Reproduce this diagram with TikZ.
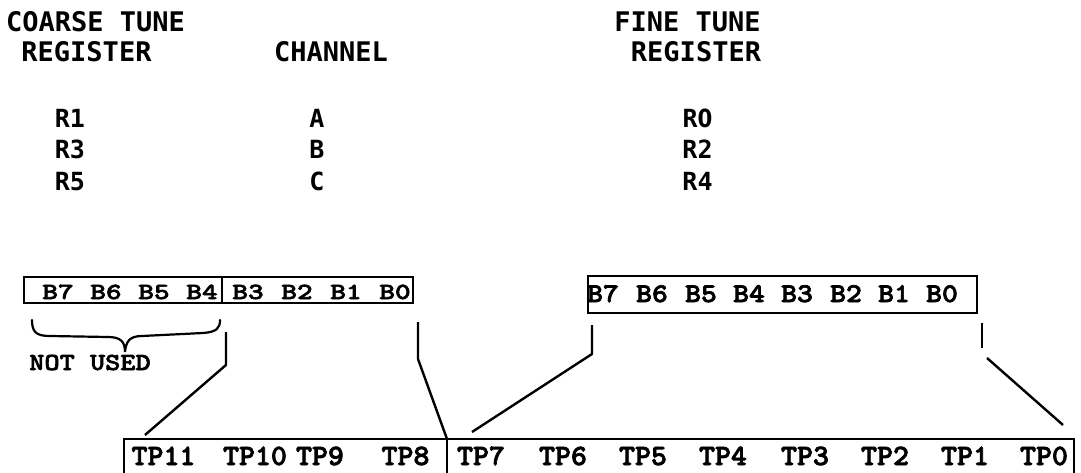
\documentclass[tikz,border=0pt]{standalone}
\usepackage{fontspec}
\newfontfamily\hdrfont{DejaVu Sans Mono}
\newfontfamily\zerofont[FakeStretch=0.85]{DejaVu Sans}
\newfontfamily\regfont[FakeStretch=1.3,FakeBold=2.5]{lmmonolt10-bold.otf}
\newfontfamily\finefont[FakeStretch=1.12,FakeBold=2.5]{lmmonolt10-bold.otf}
\newfontfamily\tpfont[FakeStretch=1.03,FakeBold=2.5]{lmmonolt10-bold.otf}
\newfontfamily\nufont[FakeStretch=1.18,FakeBold=2.5]{lmmonolt10-bold.otf}
\begin{document}
\begin{tikzpicture}[x=1pt,y=-1pt,
  hdr/.style={inner sep=0pt, anchor=base, font=\hdrfont\bfseries\fontsize{27}{27}\selectfont},
  regname/.style={inner sep=0pt, anchor=base, font=\hdrfont\bfseries\fontsize{25}{25}\selectfont},
  cbit/.style={inner sep=0pt, anchor=base, font=\regfont\fontsize{23}{23}\selectfont},
  fbit/.style={inner sep=0pt, anchor=base, font=\finefont\fontsize{27}{27}\selectfont},
  tp/.style={inner sep=0pt, anchor=base, font=\tpfont\fontsize{29.5}{29.5}\selectfont},
  nu/.style={inner sep=0pt, anchor=base, font=\nufont\fontsize{24.5}{24.5}\selectfont},
  regbox/.style={draw, inner sep=0pt, line width=2.2pt},
  conn/.style={line width=2.4pt, line join=round}]
\useasboundingbox (0,0) rectangle (1081,473);
\clip (0,0) rectangle (1081,473);

% headers
\node[hdr] (h1) at (95.5,32) {COARSE TUNE};
\node[hdr] (h2) at (86.5,62) {REGISTER};
\node[hdr] (h3) at (331,62) {CHANNEL};
\node[hdr] (h4) at (687.5,32) {FINE TUNE};
\node[hdr] (h5) at (696,62) {REGISTER};

% table
\node[regname] (r1) at (70,128) {R1};
\node[regname] (r3) at (70,159) {R3};
\node[regname] (r5) at (70,190) {R5};
\node[regname] (ca) at (317,128) {A};
\node[regname] (cb) at (317,159) {B};
\node[regname] (cc) at (317,190) {C};
\node[regname] (r0) at (697.5,128) {R{\zerofont 0}};
\node[regname] (r2) at (697.5,159) {R2};
\node[regname] (r4) at (697.5,190) {R4};

% coarse register box
\node[regbox, minimum width=389pt, minimum height=26pt] (cbox) at (218.5,290) {};
\draw[line width=1.6pt] (222,277) coordinate (cdt) -- (222,303) coordinate (cdb);
\node[cbit] (c7) at (58,299) {B7};
\node[cbit] (c6) at (106,299) {B6};
\node[cbit] (c5) at (154,299) {B5};
\node[cbit] (c4) at (202,299) {B4};
\node[cbit] (c3) at (248,299) {B3};
\node[cbit] (c2) at (297,299) {B2};
\node[cbit] (c1) at (346,299) {B1};
\node[cbit] (c0) at (395,299) {B0};

% brace and label
\draw[line width=2.2pt, line cap=round]
  (32,320) .. controls (32,332) and (36,336) .. (50,336) -- (108,337)
  .. controls (121,337) and (125,342) .. (125,352)
  .. controls (126,342) and (129,336) .. (142,336) -- (203,333)
  .. controls (217,332) and (220,328) .. (220,320);
\node[nu] (nu) at (90,370) {NOT USED};

% fine register box
\node[regbox, minimum width=389pt, minimum height=37pt] (fbox) at (782.5,294.5) {};
\node[fbit] (f7) at (603,302) {B7};
\node[fbit] (f6) at (652,302) {B6};
\node[fbit] (f5) at (701,302) {B5};
\node[fbit] (f4) at (749,302) {B4};
\node[fbit] (f3) at (797,302) {B3};
\node[fbit] (f2) at (846,302) {B2};
\node[fbit] (f1) at (894,302) {B1};
\node[fbit] (f0) at (942,302) {B0};

% tone period box
\node[regbox, minimum width=950pt, minimum height=60pt] (tbox) at (599,469) {};
\draw[line width=2.2pt] (447,439) coordinate (tdiv) -- (447,500);
\node[tp] (t11) at (163.5,465) {TP11};
\node[tp] (t10) at (255,465) {TP10};
\node[tp] (t9) at (320,465) {TP9};
\node[tp] (t8) at (405.5,465) {TP8};
\node[tp] (t7) at (481,465) {TP7};
\node[tp] (t6) at (563,465) {TP6};
\node[tp] (t5) at (643,465) {TP5};
\node[tp] (t4) at (723,465) {TP4};
\node[tp] (t3) at (805,465) {TP3};
\node[tp] (t2) at (885,465) {TP2};
\node[tp] (t1) at (965,465) {TP1};
\node[tp] (t0) at (1044,465) {TP0};

% connectors
\coordinate (a1) at (226,332);
\coordinate (a2) at (226,365);
\coordinate (a3) at (145,435);
\draw[conn] (a1) -- (a2) -- (a3);
\coordinate (b1) at (418,322);
\coordinate (b2) at (418,359);
\draw[conn] (b1) -- (b2) -- (tdiv);
\coordinate (d1) at (592,325);
\coordinate (d2) at (592,354);
\coordinate (d3) at (472,432);
\draw[conn] (d1) -- (d2) -- (d3);
\coordinate (e1) at (982,323);
\coordinate (e2) at (982,348);
\coordinate (e3) at (987,358);
\coordinate (e4) at (1063,425);
\draw[conn] (e1) -- (e2);
\draw[conn] (e3) -- (e4);
\end{tikzpicture}
\end{document}
